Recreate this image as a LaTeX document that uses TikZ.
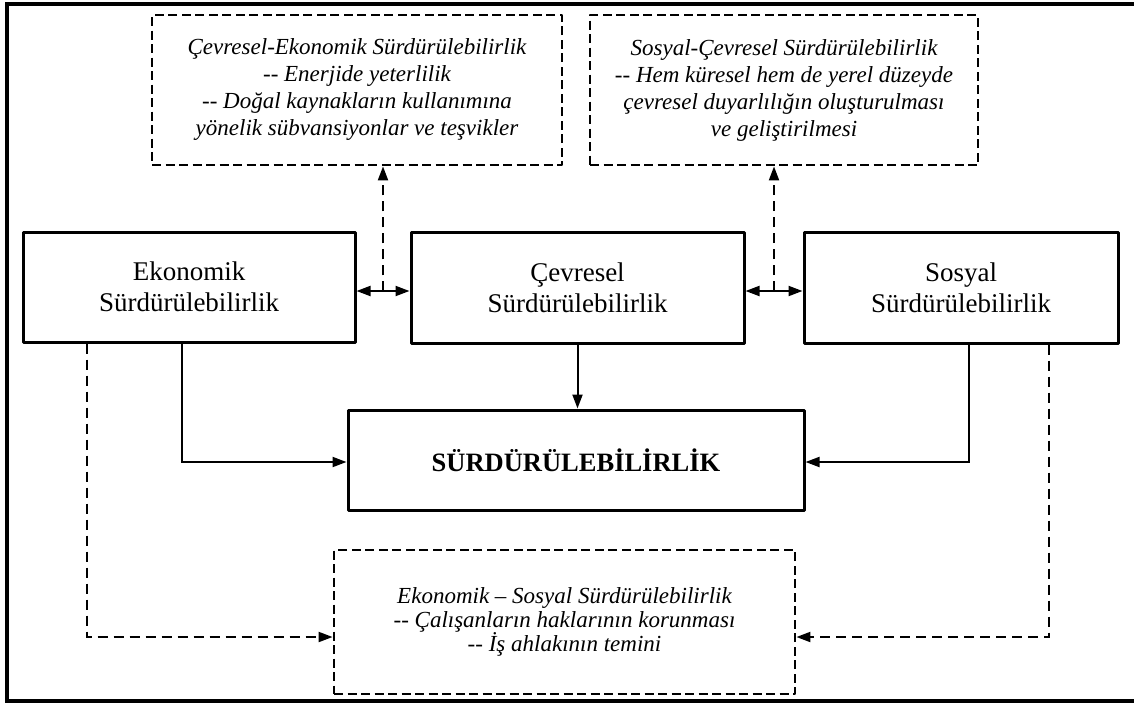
\documentclass[tikz,border=0pt]{standalone}
\usepackage{fontspec}
\setmainfont{Liberation Serif}
\usetikzlibrary{arrows.meta,calc}
\begin{document}
\begin{tikzpicture}[x=1pt,y=-1pt,
  solidbox/.style={draw,line width=3pt,line join=round,inner sep=0pt,align=center,
    font=\fontsize{27}{31}\selectfont},
  dashbox/.style={draw,line width=2.8pt,dash pattern=on 9pt off 4.5pt,line join=round,inner sep=0pt,align=center,
    font=\fontsize{23}{27}\selectfont\itshape},
  conn/.style={line width=2pt,-{Triangle[length=14pt,width=10pt]}},
  dconn/.style={line width=2pt,dash pattern=on 10pt off 6pt,-{Triangle[length=14pt,width=10pt]}},
  biconn/.style={line width=2pt,{Triangle[length=14pt,width=10pt]}-{Triangle[length=14pt,width=10pt]}}
]
\useasboundingbox (0,0) rectangle (1134,704);
\draw[line width=4pt] (1134,4) -- (7,4) -- (7,701) -- (1134,701);

\node[solidbox,minimum width=332pt,minimum height=110pt] (eko) at (189,287) {Ekonomik\\Sürdürülebilirlik};
\node[solidbox,minimum width=333pt,minimum height=111pt] (cev) at (577.5,287.5) {Çevresel\\Sürdürülebilirlik};
\node[solidbox,minimum width=314pt,minimum height=111pt] (sos) at (961,287.5) {Sosyal\\Sürdürülebilirlik};
\node[solidbox,minimum width=456pt,minimum height=100pt,font=\fontsize{26.5}{31}\selectfont\bfseries] (surd) at (576,460) {SÜRDÜRÜLEBİLİRLİK};

\node[dashbox,minimum width=410pt,minimum height=150pt] (tl) at (357,90) {Çevresel-Ekonomik Sürdürülebilirlik\\-{}- Enerjide yeterlilik\\-{}- Doğal kaynakların kullanımına\\yönelik sübvansiyonlar ve teşvikler};
\node[dashbox,minimum width=388pt,minimum height=150pt] (tr) at (784,90) {Sosyal-Çevresel Sürdürülebilirlik\\-{}- Hem küresel hem de yerel düzeyde\\çevresel duyarlılığın oluşturulması\\ve geliştirilmesi};
\node[dashbox,minimum width=461pt,minimum height=144pt,font=\fontsize{23}{24}\selectfont\itshape] (bot) at (564.5,622) {Ekonomik – Sosyal Sürdürülebilirlik\\-{}- Çalışanların haklarının korunması\\-{}- İş ahlakının temini};

% double arrows between top boxes
\draw[biconn] ([yshift=-4pt]eko.east) -- ([yshift=-3.5pt]cev.west);
\draw[biconn] ([yshift=-3.5pt]cev.east) -- ([yshift=-3.5pt]sos.west);
\coordinate (m1) at ($([yshift=-4pt]eko.east)!0.5!([yshift=-4pt]cev.west)$);
\coordinate (m2) at ($([yshift=-3.5pt]cev.east)!0.5!([yshift=-3.5pt]sos.west)$);
\draw[dconn] (m1) -- (m1 |- tl.south);
\draw[dconn] (m2) -- (m2 |- tl.south);

% solid connectors into SÜRDÜRÜLEBİLİRLİK
\draw[conn] (cev.south) -- (cev.south |- surd.north);
\draw[conn] ([xshift=-7pt]eko.south) |- ([yshift=-2pt]surd.west);
\draw[conn] ([xshift=8pt]sos.south) |- ([yshift=-2pt]surd.east);

% dashed connectors into bottom box
\draw[dconn] ([xshift=-102pt]eko.south) |- ([yshift=-15pt]bot.west);
\draw[dconn] ([xshift=88pt]sos.south) |- ([yshift=-15pt]bot.east);
\end{tikzpicture}
\end{document}
